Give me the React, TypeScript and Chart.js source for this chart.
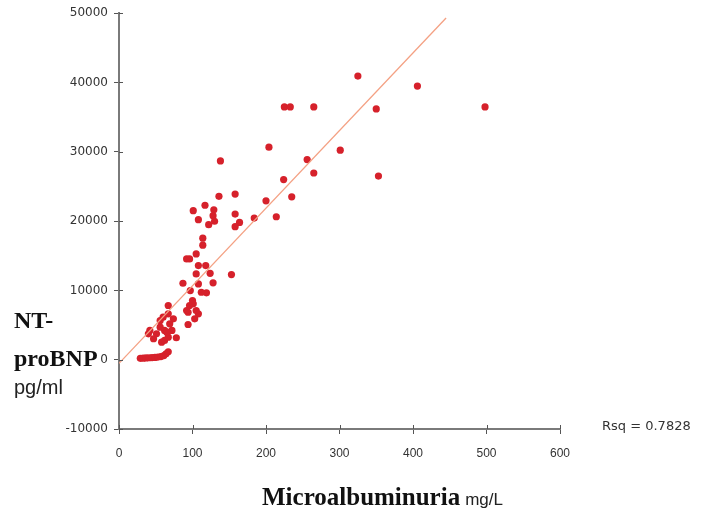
import React, { useEffect, useRef } from 'react';
import { Chart, registerables } from 'chart.js';

Chart.register(...registerables);

// Microalbuminuria (mg/L)
const albumin = [
  325, 406, 225, 233, 265, 350, 498,
  204, 301, 256, 265, 224, 353, 138,
  136, 158, 200, 235,
  101, 117, 129, 128, 108, 122, 130, 158, 164, 158, 184, 214,
  114, 114, 105, 96, 92, 108, 118, 105, 124, 153,
  87, 108, 128, 119, 97, 100, 96, 67, 94, 108,
  103, 67, 60, 56, 94, 56, 62, 72, 42, 40,
  47, 78, 58, 51, 67, 62, 74, 69, 65, 112,
  101, 92, 105,
  29, 33, 37, 41, 45, 49, 53, 57, 61, 64, 67,
];

// NT-proBNP (pg/ml)
const ntProBNP = [
  40930, 39490, 36470, 36470, 36470, 36180, 36470,
  30670, 30230, 28880, 26940, 25990, 26500, 28690,
  23580, 23900, 22930, 23510,
  21500, 22290, 21640, 20780, 20200, 19480, 19980, 21020, 19810, 19190, 20440, 20630,
  17540, 16530, 15260, 14540, 14540, 13580, 13580, 12380, 12470, 12280,
  11030, 10940, 11090, 9650, 9980, 8540, 7820, 7820, 6850, 6620,
  5900, 6620, 6130, 5660, 5080, 4690, 4220, 4220, 4220, 3740,
  3020, 3170, 2530, 3740, 3250, 2780, 5900, 5180, 3970, 9730,
  8060, 7100, 7100,
  200, 220, 250, 280, 300, 330, 380, 450, 600, 850, 1150,
];

// Regression line end points
const fitX = [0, 445];
const fitY = [-530, 49310];
const rsqLabel = 'Rsq = 0.7828';

const xMin = 0;
const xMax = 600;
const xStep = 100;
const yMin = -10000;
const yMax = 50000;
const yStep = 10000;

const textPlugin = {
  id: 'axisTexts',
  afterDraw(chart: any) {
    const ctx = chart.ctx;
    ctx.save();
    // tick marks crossing slightly into the plot area, like the reference
    ctx.strokeStyle = '#555';
    ctx.lineWidth = 1;
    const ys = chart.scales.y;
    const xs = chart.scales.x;
    ys.ticks.forEach((t: any) => {
      const py = Math.round(ys.getPixelForValue(t.value)) + 0.5;
      ctx.beginPath();
      ctx.moveTo(ys.right, py);
      ctx.lineTo(ys.right + 4, py);
      ctx.stroke();
    });
    xs.ticks.forEach((t: any) => {
      const px = Math.round(xs.getPixelForValue(t.value)) + 0.5;
      ctx.beginPath();
      ctx.moveTo(px, xs.top);
      ctx.lineTo(px, xs.top - 4);
      ctx.stroke();
    });

    ctx.fillStyle = '#111';
    ctx.textBaseline = 'alphabetic';
    ctx.textAlign = 'left';
    ctx.font = 'bold 24px "Liberation Serif", "Times New Roman", serif';
    ctx.fillText('NT-', 14, 328);
    ctx.fillText('proBNP', 14, 366);
    ctx.font = '20px "Liberation Sans", Arial, sans-serif';
    ctx.fillStyle = '#222';
    ctx.fillText('pg/ml', 14, 394);
    ctx.fillStyle = '#111';
    ctx.font = 'bold 25px "Liberation Serif", "Times New Roman", serif';
    ctx.fillText('Microalbuminuria', 262, 505);
    const w = ctx.measureText('Microalbuminuria').width;
    ctx.font = '17px "Liberation Sans", Arial, sans-serif';
    ctx.fillStyle = '#222';
    ctx.fillText('mg/L', 262 + w + 5, 505);
    ctx.font = '13px "DejaVu Sans", sans-serif';
    ctx.fillStyle = '#333';
    ctx.fillText(rsqLabel, 602, 430);
    ctx.restore();
  },
};

export default function App() {
  const ref = useRef<HTMLCanvasElement | null>(null);

  useEffect(() => {
    if (!ref.current) return;
    const points = albumin.map((x, i) => ({ x, y: ntProBNP[i] }));
    const fit = fitX.map((x, i) => ({ x, y: fitY[i] }));
    const chart = new Chart(ref.current, {
      type: 'scatter',
      data: {
        datasets: [
          {
            label: 'fit',
            type: 'line',
            data: fit,
            borderColor: '#f4a184',
            borderWidth: 1.3,
            pointRadius: 0,
            fill: false,
          } as any,
          {
            label: 'NT-proBNP',
            data: points,
            backgroundColor: '#d6212b',
            borderWidth: 0,
            pointRadius: 3.6,
          },
        ],
      },
      options: {
        animation: false,
        responsive: false,
        devicePixelRatio: 1,
        layout: { padding: { left: 0, top: 12, right: 148, bottom: 0 } },
        plugins: {
          legend: { display: false },
          tooltip: { enabled: false },
        },
        scales: {
          x: {
            type: 'linear',
            min: xMin,
            max: xMax,
            afterFit: (s: any) => {
              s.height = 86;
            },
            ticks: {
              stepSize: xStep,
              color: '#333',
              padding: 12,
              font: { family: 'Arial, "Liberation Sans"', size: 12 },
              callback: (v: any) => String(v),
            },
            grid: { drawOnChartArea: false, tickLength: 5, color: '#555', lineWidth: 1 },
            border: { color: '#7a7a7a', width: 2 },
          },
          y: {
            type: 'linear',
            min: yMin,
            max: yMax,
            afterFit: (s: any) => {
              s.width = 119;
            },
            ticks: {
              stepSize: yStep,
              color: '#333',
              padding: 6,
              font: { family: '"DejaVu Sans"', size: 12 },
              callback: (v: any) => String(v),
            },
            grid: { drawOnChartArea: false, tickLength: 5, color: '#555', lineWidth: 1 },
            border: { color: '#7a7a7a', width: 2 },
          },
        },
      },
      plugins: [textPlugin],
    });
    return () => chart.destroy();
  }, []);

  return (
    <div style={{ position: 'absolute', left: 0, top: 0, width: 708, height: 515, background: '#fff' }}>
      <canvas ref={ref} width={708} height={515} style={{ display: 'block' }} />
    </div>
  );
}
